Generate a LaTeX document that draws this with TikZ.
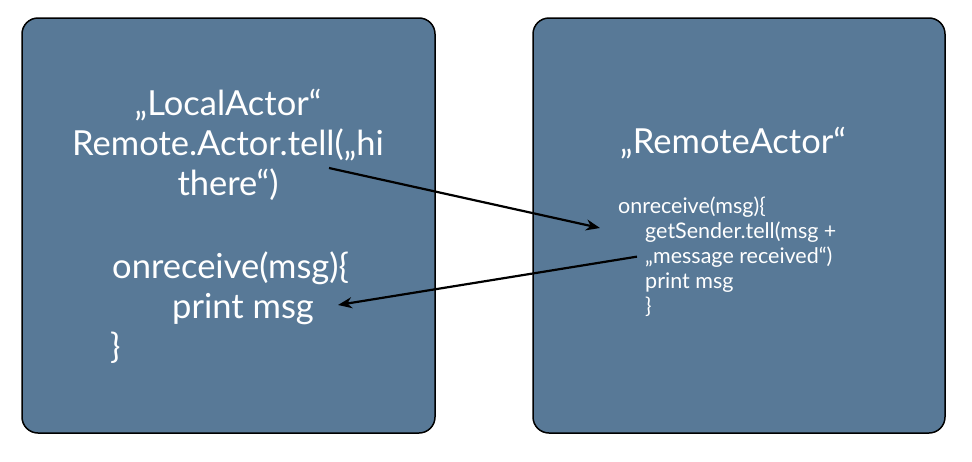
\documentclass[tikz,border=0pt]{standalone}
\usepackage{fontspec}
\setmainfont{Lato}
\usetikzlibrary{positioning, arrows.meta}
\definecolor{slate}{HTML}{587997}

\begin{document}
\begin{tikzpicture}[x=1pt, y=-1pt, >={Stealth[length=14pt, width=11pt]},
    actorbox/.style={draw=black, line width=1.5pt, fill=slate, rounded corners=16pt, inner sep=0pt},
    bigtxt/.style={text=white, font=\fontsize{34.5}{40}\selectfont, inner sep=0pt, anchor=base},
    smalltxt/.style={text=white, font=\fontsize{21.5}{25}\selectfont, inner sep=0pt, anchor=base west}]
            \useasboundingbox (0,0) rectangle (972,461);

            \node[actorbox, minimum width=413pt, minimum height=415pt] (localbox) at (228.5,225.5) {};
            \node[actorbox, minimum width=412pt, minimum height=415pt] (remotebox) at (739,225.5) {};

            % local actor
            \node[bigtxt] (ltitle) at (228,115) {„LocalActor“};
            \node[bigtxt] (lcall) at ([yshift=-40pt]ltitle.base) {Remote.Actor.tell(„hi};
            \node[bigtxt] (lthere) at ([yshift=-40pt]lcall.base) {there“)};
            \node[bigtxt, anchor=base west] (lrecv) at (112,278) {onreceive(msg)\{};
            \node[bigtxt, anchor=base west] (lprint) at ([xshift=60pt, yshift=-40pt]lrecv.base west) {print msg};
            \node[bigtxt, anchor=base west] (lclose) at ([xshift=-2pt, yshift=-40pt]lprint.base west -| lrecv.base west) {\}};

            % remote actor
            \node[bigtxt, anchor=base west] (rtitle) at (620,153) {„RemoteActor“};
            \node[smalltxt] (rrecv) at (618,213) {onreceive(msg)\{};
            \node[smalltxt] (rtell) at (645,238) {getSender.tell(msg +};
            \node[smalltxt] (rmsg) at ([yshift=-25pt]rtell.base west) {„message received“)};
            \node[smalltxt] (rprint) at ([yshift=-25pt]rmsg.base west) {print msg};
            \node[smalltxt] (rclose) at ([yshift=-25pt]rprint.base west) {\}};

            \coordinate (sendfrom) at (329,168);
            \coordinate (sendto) at (600,228);
            \coordinate (replyto) at (338,305);

            \draw[->, line width=2.2pt] (sendfrom) -- (sendto);
            \draw[->, line width=2.2pt] ([xshift=-8pt]rmsg.west) -- (replyto);
        \end{tikzpicture}
\end{document}
